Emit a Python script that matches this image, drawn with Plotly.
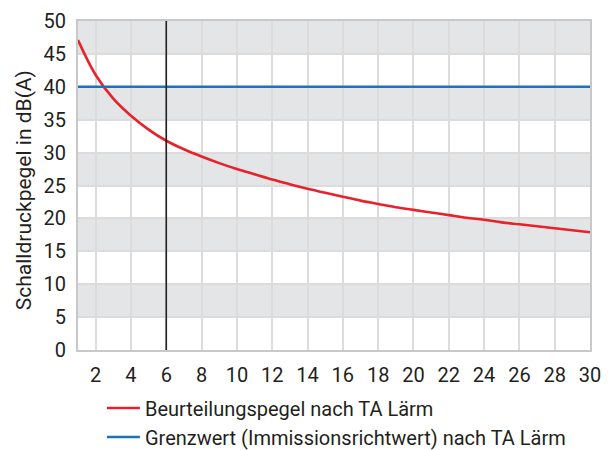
import plotly.graph_objects as go

# Data
distance = list(range(1, 31))
beurteilungspegel = [47.1, 41.8, 38.2, 35.6, 33.5, 31.8, 30.5, 29.4, 28.4, 27.5,
                     26.7, 25.9, 25.2, 24.5, 23.9, 23.3, 22.7, 22.2, 21.7, 21.3,
                     20.9, 20.5, 20.1, 19.8, 19.4, 19.1, 18.8, 18.5, 18.2, 17.9]
grenzwert_x = [1, 30]
grenzwert_y = [40, 40]
marker_x = 6
band_ranges = [(5, 10), (15, 20), (25, 30), (35, 40), (45, 50)]
x_ticks = list(range(2, 31, 2))
y_ticks = list(range(0, 51, 5))
y_title = "Schalldruckpegel in dB(A)"

FONT = "Roboto, sans-serif"
GRID = "#dcdcdc"
TXT = "#231f20"

fig = go.Figure()
fig.add_trace(go.Scatter(x=distance, y=beurteilungspegel, mode="lines",
                         line=dict(color="#e8212b", width=2.6, shape="spline", smoothing=1.0),
                         name="Beurteilungspegel nach TA Lärm"))
fig.add_trace(go.Scatter(x=grenzwert_x, y=grenzwert_y, mode="lines",
                         line=dict(color="#1a74bb", width=2.6),
                         name="Grenzwert (Immissionsrichtwert) nach TA Lärm"))

for y0, y1 in band_ranges:
    fig.add_shape(type="rect", xref="x", yref="y", x0=1, x1=30, y0=y0, y1=y1,
                  fillcolor="#e4e5e7", line=dict(width=0), layer="below")

fig.add_shape(type="line", xref="x", yref="y", x0=marker_x, x1=marker_x, y0=0, y1=50,
              line=dict(color="#222222", width=1.6), layer="above")

fig.add_annotation(text=y_title, xref="paper", yref="paper", x=-0.104, y=0.485,
                   xanchor="center", yanchor="middle", textangle=-90, showarrow=False,
                   font=dict(family=FONT, size=21, color=TXT))

fig.update_layout(
    width=606, height=442,
    margin=dict(l=70, r=24, t=13, b=100, autoexpand=False),
    paper_bgcolor="white", plot_bgcolor="white",
    font=dict(family=FONT, size=20, color=TXT),
    showlegend=True,
    legend=dict(xref="container", yref="container", x=0.155, y=0.139,
                xanchor="left", yanchor="top",
                font=dict(family=FONT, size=20, color=TXT),
                tracegroupgap=0, itemwidth=33, bgcolor="rgba(0,0,0,0)"),
    xaxis=dict(range=[1, 30], tickvals=x_ticks, showgrid=True, gridcolor=GRID, gridwidth=2,
               showline=True, linecolor="#c8c8c8", linewidth=2, mirror=True,
               ticks="outside", ticklen=6, tickcolor="rgba(0,0,0,0)", zeroline=False,
               automargin=False, tickfont=dict(size=20)),
    yaxis=dict(range=[0, 50], tickvals=y_ticks, showgrid=True, gridcolor=GRID, gridwidth=2,
               showline=True, linecolor="#c8c8c8", linewidth=2, mirror=True,
               ticks="outside", ticklen=6, tickcolor="rgba(0,0,0,0)", zeroline=False,
               automargin=False, tickfont=dict(size=20)),
)

fig.write_html("out.html")
